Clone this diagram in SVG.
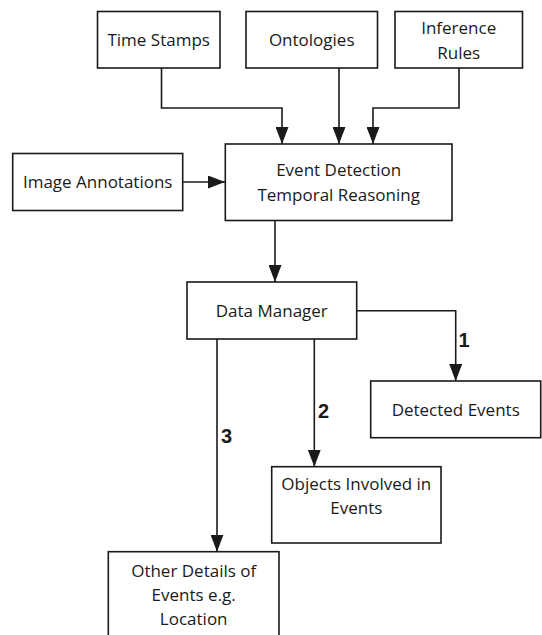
<svg xmlns="http://www.w3.org/2000/svg" width="542" height="635" viewBox="0 0 542 635">
<style>
.box{fill:#fff;stroke:#1a1a1a;stroke-width:1.6}
.t{font-family:"Open Sans","Liberation Sans",sans-serif;font-size:17px;fill:#1a1a1a;text-anchor:middle}
.c{fill:none;stroke:#1a1a1a;stroke-width:1.6}
.n{font-family:"Liberation Sans",Arial,sans-serif;font-size:20px;font-weight:bold;fill:#1a1a1a;text-anchor:middle}
</style>
<defs>
<marker id="ah" markerUnits="userSpaceOnUse" markerWidth="17" markerHeight="13" refX="17" refY="6.5" orient="auto">
<path d="M0,0 L17,6.5 L0,13 z" fill="#1a1a1a"/>
</marker>
</defs>
<rect width="542" height="635" fill="#fff"/>
<g id="connectors">
<path class="c" d="M161.5,68 V108 H282 V144" marker-end="url(#ah)"/>
<path class="c" d="M339,68 V144" marker-end="url(#ah)"/>
<path class="c" d="M459,68 V108 H373 V144" marker-end="url(#ah)"/>
<path class="c" d="M182.7,182 H225" marker-end="url(#ah)"/>
<path class="c" d="M275,220.5 V282" marker-end="url(#ah)"/>
<path class="c" d="M356.7,310.7 H455.7 V381" marker-end="url(#ah)"/>
<path class="c" d="M314.3,339 V466.7" marker-end="url(#ah)"/>
<path class="c" d="M217,339 V551.7" marker-end="url(#ah)"/>
<text class="n" x="464" y="347">1</text>
<text class="n" x="323.5" y="418">2</text>
<text class="n" x="226.5" y="443">3</text>
</g>
<g id="time-stamps">
<rect class="box" x="97.5" y="11.5" width="122.5" height="56.5"/>
<text class="t" x="158.7" y="46">Time Stamps</text>
</g>
<g id="ontologies">
<rect class="box" x="246" y="11.5" width="131.5" height="56.5"/>
<text class="t" x="311.7" y="46">Ontologies</text>
</g>
<g id="inference-rules">
<rect class="box" x="395" y="11.5" width="127.5" height="56.5"/>
<text class="t" x="458.7" y="34">Inference</text>
<text class="t" x="458.7" y="59">Rules</text>
</g>
<g id="image-annotations">
<rect class="box" x="12.7" y="153.5" width="170" height="57"/>
<text class="t" x="97.7" y="188">Image Annotations</text>
</g>
<g id="event-detection">
<rect class="box" x="225.3" y="144" width="226.7" height="76.5"/>
<text class="t" x="338.7" y="176">Event Detection</text>
<text class="t" x="338.7" y="201">Temporal Reasoning</text>
</g>
<g id="data-manager">
<rect class="box" x="187" y="282" width="169.7" height="57"/>
<text class="t" x="271.8" y="316.5">Data Manager</text>
</g>
<g id="detected-events">
<rect class="box" x="370.7" y="381" width="170" height="56.7"/>
<text class="t" x="455.7" y="415.5">Detected Events</text>
</g>
<g id="objects-involved">
<rect class="box" x="271.7" y="466.7" width="169.3" height="76.3"/>
<text class="t" x="356.3" y="489.5">Objects Involved in</text>
<text class="t" x="356.3" y="514">Events</text>
</g>
<g id="other-details">
<rect class="box" x="108.3" y="551.7" width="170.7" height="95"/>
<text class="t" x="193.7" y="577">Other Details of</text>
<text class="t" x="193.7" y="601">Events e.g.</text>
<text class="t" x="193.7" y="625">Location</text>
</g>
</svg>
